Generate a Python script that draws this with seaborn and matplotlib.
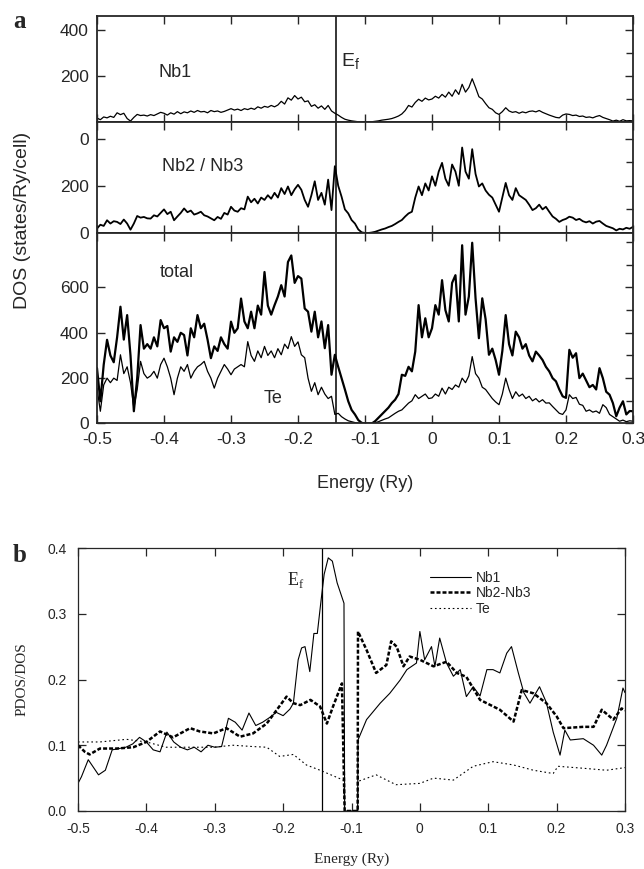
import numpy as np
import matplotlib
matplotlib.use("Agg")
import matplotlib.pyplot as plt
from matplotlib.ticker import MultipleLocator, FixedLocator, FixedFormatter
import seaborn as sns

# ---- data ----
E_F = -0.143

# panel a: DOS on an even 0.005 Ry grid from -0.5 to 0.3
energy_a = np.linspace(-0.5, 0.3, 161)

dos_nb1 = [
    17, 10, 22, 18, 25, 20, 40, 32, 38, 15, 4, 20, 33, 28, 30, 26, 32, 28, 35, 42,
    38, 30, 40, 34, 45, 36, 44, 40, 48, 42, 50, 44, 46, 40, 50, 45, 48, 42, 46, 52,
    58, 52, 56, 50, 58, 54, 60, 55, 66, 60, 68, 64, 72, 66, 74, 90, 78, 105, 95, 115,
    100, 108, 88, 92, 68, 75, 60, 70, 55, 72, 48, 38, 30, 20, 12, 8, 5, 3, 1, 0,
    0, 0, 1, 3, 5, 8, 10, 12, 15, 20, 26, 35, 50, 72, 65, 85, 99, 90, 104, 96,
    100, 112, 104, 120, 108, 130, 112, 140, 120, 164, 130, 150, 188, 150, 110, 100, 80, 62, 55, 40,
    33, 45, 62, 48, 42, 45, 38, 44, 40, 46, 48, 44, 50, 42, 36, 30, 25, 20, 18, 30,
    35, 33, 28, 30, 24, 26, 20, 22, 18, 24, 28, 20, 15, 10, 4, 8, 3, 10, 5, 6,
    5]

dos_nb2 = [
    19, 35, 30, 54, 40, 50, 47, 38, 57, 40, 14, 40, 72, 65, 68, 62, 61, 75, 70, 85,
    100, 80, 90, 54, 70, 85, 104, 88, 95, 78, 83, 90, 75, 70, 62, 54, 68, 60, 85, 78,
    111, 95, 90, 105, 100, 154, 130, 145, 125, 150, 140, 160, 145, 170, 150, 190, 165, 197, 160, 185,
    204, 183, 140, 111, 160, 219, 140, 170, 120, 226, 97, 283, 200, 154, 100, 83, 55, 40, 15, 3,
    0, 0, 2, 5, 10, 15, 19, 25, 30, 38, 47, 55, 70, 83, 90, 150, 197, 160, 210, 180,
    240, 200, 260, 297, 230, 200, 290, 260, 200, 362, 260, 230, 355, 250, 197, 210, 180, 162, 150, 120,
    90, 150, 212, 160, 140, 190, 160, 150, 140, 120, 97, 105, 120, 100, 111, 90, 70, 60, 47, 55,
    60, 69, 65, 55, 60, 50, 45, 50, 40, 48, 51, 40, 30, 25, 20, 11, 18, 15, 22, 18,
    26]

dos_total = [
    244, 98, 259, 369, 300, 270, 380, 515, 370, 478, 300, 54, 200, 434, 330, 350, 330, 380, 340, 456,
    420, 430, 317, 380, 360, 400, 390, 300, 420, 380, 478, 420, 440, 370, 288, 340, 320, 380, 350, 330,
    449, 400, 420, 551, 450, 420, 493, 420, 520, 480, 668, 520, 480, 522, 560, 610, 560, 712, 741, 620,
    650, 639, 507, 493, 405, 493, 380, 450, 332, 434, 215, 303, 250, 200, 150, 98, 60, 40, 15, 3,
    0, 0, 0, 10, 25, 40, 55, 70, 90, 105, 130, 215, 210, 250, 230, 317, 522, 380, 464, 380,
    420, 522, 480, 632, 500, 450, 620, 654, 450, 786, 480, 560, 797, 552, 376, 552, 460, 303, 330, 280,
    215, 320, 478, 350, 300, 405, 380, 330, 350, 300, 274, 317, 300, 280, 250, 230, 200, 186, 150, 120,
    113, 325, 290, 310, 200, 220, 190, 160, 170, 150, 244, 200, 140, 127, 90, 32, 70, 98, 40, 55,
    54]

dos_te = [
    156, 54, 170, 200, 180, 200, 190, 303, 220, 250, 180, 69, 150, 274, 220, 200, 210, 230, 200, 260,
    288, 250, 200, 127, 200, 250, 230, 260, 200, 230, 250, 260, 274, 230, 200, 156, 200, 230, 260, 240,
    215, 240, 250, 260, 250, 361, 300, 274, 320, 290, 340, 300, 320, 290, 330, 303, 350, 330, 383, 340,
    360, 303, 290, 200, 142, 180, 127, 160, 130, 110, 120, 40, 45, 30, 20, 12, 8, 4, 2, 0,
    0, 0, 0, 3, 8, 14, 20, 25, 35, 45, 54, 60, 75, 90, 100, 127, 110, 120, 130, 110,
    113, 130, 120, 156, 130, 160, 150, 170, 160, 200, 180, 210, 295, 220, 200, 160, 150, 130, 110, 95,
    83, 130, 200, 150, 110, 140, 120, 130, 110, 120, 100, 110, 95, 105, 90, 91, 75, 60, 45, 40,
    60, 127, 110, 115, 85, 80, 54, 60, 50, 55, 45, 83, 70, 40, 30, 20, 10, 15, 8, 12,
    10]

# panel b: PDOS/DOS ratio (drops to zero inside the gap)
e_b_nb1 = [-0.5, -0.495, -0.485, -0.47, -0.46, -0.45, -0.44, -0.43, -0.42, -0.41,
           -0.4, -0.39, -0.38, -0.37, -0.36, -0.35, -0.34, -0.33, -0.32, -0.31,
           -0.3, -0.29, -0.28, -0.27, -0.26, -0.25, -0.24, -0.23, -0.22, -0.21,
           -0.2, -0.19, -0.185, -0.178, -0.173, -0.168, -0.161, -0.155, -0.15, -0.145,
           -0.14, -0.134, -0.128, -0.121, -0.111, -0.110, -0.091, -0.0905, -0.078, -0.058,
           -0.044, -0.029, -0.019, -0.005, 0.0, 0.007, 0.017, 0.022, 0.029, 0.039,
           0.049, 0.059, 0.068, 0.078, 0.088, 0.098, 0.107, 0.117, 0.127, 0.134,
           0.144, 0.152, 0.161, 0.175, 0.185, 0.195, 0.205, 0.212, 0.22, 0.239,
           0.254, 0.266, 0.273, 0.288, 0.297, 0.3]
r_nb1 = [0.042, 0.052, 0.078, 0.055, 0.062, 0.093, 0.095, 0.097, 0.102, 0.112,
         0.105, 0.093, 0.09, 0.12, 0.105, 0.097, 0.093, 0.097, 0.09, 0.1,
         0.097, 0.098, 0.141, 0.135, 0.123, 0.149, 0.13, 0.135, 0.142, 0.15,
         0.145, 0.155, 0.164, 0.23, 0.248, 0.25, 0.212, 0.27, 0.27, 0.316,
         0.36, 0.385, 0.38, 0.347, 0.316, 0.0, 0.0, 0.108, 0.139, 0.164,
         0.179, 0.199, 0.215, 0.225, 0.273, 0.23, 0.25, 0.22, 0.263, 0.225,
         0.205, 0.215, 0.174, 0.189, 0.175, 0.215, 0.215, 0.21, 0.24, 0.25,
         0.21, 0.18, 0.164, 0.189, 0.165, 0.12, 0.085, 0.123, 0.108, 0.11,
         0.1, 0.085, 0.1, 0.141, 0.187, 0.18]

e_b_nb23 = [-0.5, -0.49, -0.483, -0.468, -0.443, -0.419, -0.4, -0.38, -0.361, -0.336,
            -0.322, -0.302, -0.283, -0.263, -0.244, -0.224, -0.195, -0.185, -0.175, -0.16,
            -0.146, -0.136, -0.127, -0.114, -0.110, -0.091, -0.0905, -0.078, -0.064, -0.049,
            -0.042, -0.034, -0.024, -0.015, 0.0, 0.02, 0.039, 0.054, 0.068, 0.088,
            0.117, 0.137, 0.149, 0.166, 0.185, 0.2, 0.21, 0.239, 0.254, 0.266,
            0.283, 0.295, 0.3]
r_nb23 = [0.1, 0.09, 0.086, 0.095, 0.095, 0.097, 0.105, 0.121, 0.112, 0.126,
          0.121, 0.118, 0.126, 0.113, 0.118, 0.133, 0.174, 0.164, 0.161, 0.169,
          0.159, 0.133, 0.159, 0.194, 0.0, 0.0, 0.273, 0.245, 0.21, 0.222,
          0.258, 0.25, 0.22, 0.235, 0.23, 0.22, 0.227, 0.21, 0.204, 0.169,
          0.154, 0.136, 0.184, 0.179, 0.164, 0.144, 0.126, 0.128, 0.128, 0.154,
          0.139, 0.156, 0.153]

e_b_te = [-0.5, -0.468, -0.429, -0.4, -0.371, -0.341, -0.302, -0.273, -0.244, -0.224,
          -0.205, -0.185, -0.166, -0.146, -0.112, -0.110, -0.091, -0.0905, -0.064, -0.035,
          0.0, 0.02, 0.049, 0.078, 0.107, 0.137, 0.166, 0.195, 0.202, 0.239,
          0.273, 0.3]
r_te = [0.105, 0.105, 0.109, 0.105, 0.097, 0.097, 0.097, 0.1, 0.098, 0.097,
        0.083, 0.086, 0.07, 0.062, 0.047, 0.0, 0.0, 0.045, 0.055, 0.04,
        0.042, 0.05, 0.047, 0.068, 0.075, 0.07, 0.062, 0.057, 0.068, 0.065,
        0.062, 0.066]

x_ticks = [-0.5, -0.4, -0.3, -0.2, -0.1, 0.0, 0.1, 0.2, 0.3]
x_tick_labels = ['-0.5', '-0.4', '-0.3', '-0.2', '-0.1', '0', '0.1', '0.2', '0.3']

# ---- style ----
sns.set_style('ticks')
plt.rcParams['font.family'] = ['Liberation Sans', 'DejaVu Sans']
plt.rcParams['axes.unicode_minus'] = False
SANS = 'Liberation Sans'
SERIF = 'Liberation Serif'

fig = plt.figure(figsize=(6.44, 8.69), dpi=100)
W, H = 644.0, 869.0


def px_axes(left, top, right, bottom):
    return fig.add_axes([left / W, 1 - bottom / H, (right - left) / W, (bottom - top) / H])


def style_a(ax, ymax, yticks, ylabels, show_x):
    ax.set_xlim(-0.5, 0.3)
    ax.set_ylim(0, ymax)
    ax.xaxis.set_major_locator(FixedLocator(x_ticks))
    ax.xaxis.set_major_formatter(FixedFormatter(x_tick_labels if show_x else [''] * 9))
    ax.yaxis.set_major_locator(FixedLocator(yticks))
    ax.yaxis.set_major_formatter(FixedFormatter(ylabels))
    ax.yaxis.set_minor_locator(MultipleLocator(100))
    ax.tick_params(which='major', direction='in', top=True, right=True, length=6,
                   width=1.0, labelsize=12.5, pad=6)
    ax.tick_params(which='minor', direction='in', left=False, right=True, length=5, width=1.0)
    for s in ax.spines.values():
        s.set_linewidth(1.3)
    ax.set_xlabel('')
    ax.set_ylabel('')
    ax.axvline(E_F, color='black', lw=1.1)


# panel a -- three stacked boxes
ax1 = px_axes(97, 16, 633, 122)
sns.lineplot(x=energy_a, y=dos_nb1, ax=ax1, color='black', lw=0.9, estimator=None, sort=False)
style_a(ax1, 461, [200, 400], ['200', '400'], False)
ax1.text(-0.384, 217, 'Nb1', fontsize=13, ha='center', va='center', family=SANS)
ax1.text(-0.136, 262, r'E$_\mathregular{f}$', fontsize=14, ha='left', va='center', family=SANS)

ax2 = px_axes(97, 122, 633, 233)
sns.lineplot(x=energy_a, y=dos_nb2, ax=ax2, color='black', lw=1.3, estimator=None, sort=False)
style_a(ax2, 470, [0, 200, 400], ['0', '200', '0'], False)
ax2.text(-0.342, 281, 'Nb2 / Nb3', fontsize=13, ha='center', va='center', family=SANS)

ax3 = px_axes(97, 233, 633, 423.5)
sns.lineplot(x=energy_a, y=dos_total, ax=ax3, color='black', lw=1.6, estimator=None, sort=False)
sns.lineplot(x=energy_a, y=dos_te, ax=ax3, color='black', lw=0.9, estimator=None, sort=False)
style_a(ax3, 840, [0, 200, 400, 600], ['0', '200', '400', '600'], True)
ax3.text(-0.381, 664, 'total', fontsize=13, ha='center', va='center', family=SANS)
ax3.text(-0.237, 112, 'Te', fontsize=13, ha='center', va='center', family=SANS)
ax3.set_xlabel('Energy (Ry)', fontsize=13, family=SANS, labelpad=20)

fig.text(23 / W, 1 - 220 / H, 'DOS (states/Ry/cell)', rotation=90, fontsize=14,
         ha='center', va='center', family=SANS)
fig.text(13 / W, 1 - 22 / H, 'a', fontsize=18, fontweight='bold', family=SERIF,
         ha='left', va='center')

# panel b -- PDOS/DOS
axb = px_axes(78, 548, 625, 811)
sns.lineplot(x=e_b_nb1, y=r_nb1, ax=axb, color='black', lw=0.8, estimator=None,
             sort=False, label='Nb1')
sns.lineplot(x=e_b_nb23, y=r_nb23, ax=axb, color='black', lw=1.8, estimator=None,
             sort=False, label='Nb2-Nb3', linestyle=(0, (1.6, 0.8)))
sns.lineplot(x=e_b_te, y=r_te, ax=axb, color='black', lw=0.8, estimator=None,
             sort=False, label='Te', linestyle=(0, (1.5, 2.5)))
axb.axvline(E_F, color='black', lw=0.9)
axb.set_xlim(-0.5, 0.3)
axb.set_ylim(0, 0.4)
axb.xaxis.set_major_locator(FixedLocator(x_ticks))
axb.xaxis.set_major_formatter(FixedFormatter(x_tick_labels))
axb.yaxis.set_major_locator(FixedLocator([0.0, 0.1, 0.2, 0.3, 0.4]))
axb.yaxis.set_major_formatter(FixedFormatter(['0.0', '0.1', '0.2', '0.3', '0.4']))
axb.tick_params(direction='in', top=True, right=True, length=6, width=0.9,
                labelsize=10, pad=8)
for s in axb.spines.values():
    s.set_linewidth(0.9)
axb.set_xlabel('Energy (Ry)', fontsize=11, family=SERIF, labelpad=12)
axb.set_ylabel('PDOS/DOS', fontsize=11, family=SERIF, labelpad=14)
axb.text(-0.194, 0.352, r'E$_\mathregular{f}$', fontsize=13, family=SERIF,
         ha='left', va='center')
axb.legend(loc='upper left', bbox_to_anchor=(0.63, 0.94), frameon=False, fontsize=10,
           handlelength=3.0, handletextpad=0.3, labelspacing=0.1, borderpad=0)
fig.text(13 / W, 1 - 556 / H, 'b', fontsize=18, fontweight='bold', family=SERIF,
         ha='left', va='center')

fig.savefig('out.png', dpi=100)
